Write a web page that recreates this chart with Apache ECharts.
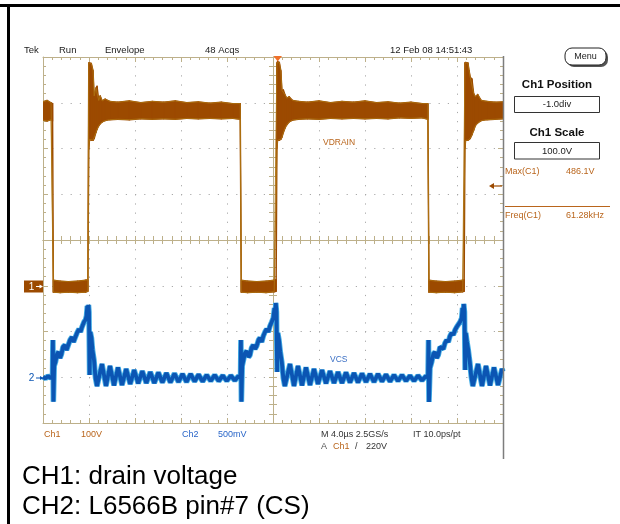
<!DOCTYPE html>
<html><head><meta charset="utf-8">
<script src="https://cdn.jsdelivr.net/npm/echarts@6/dist/echarts.min.js"></script>
<style>html,body{margin:0;padding:0;background:#fff}#c{width:620px;height:524px}</style>
</head><body><div id="c"></div><script>
// ---- Time axis (µs): 10 div x 4.0 µs ----
const timeMin = 0, timeMax = 40, timeDiv = 4;
// ---- CH1 drain voltage envelope (V): time, upper, lower ----
const drainT  = [0,0.35,0.7,0.83,0.9,1.5,2.2,3.0,3.7,3.9,3.98,4.05,4.2,4.35,4.45,4.6,4.7,4.85,4.97,5.15,5.4,5.8,6.5,7.5,8.5,9.5,10.5,11.5,12.5,13.5,14.5,15.5,16.5,17.15,17.24,17.8,18.6,19.4,20.1,20.27,20.34,20.4,20.55,20.68,20.78,20.9,21.05,21.2,21.4,21.7,22.2,23,24,25,26,27,28,29,30,31,32,33,33.47,33.56,34.2,35,35.8,36.5,36.62,36.69,36.75,36.95,37.05,37.15,37.3,37.45,37.6,37.8,38.1,38.6,39.3,40];
const drainHi = [402,405,400,398,12,10,9,10,12,13,487,487,486,470,415,432,436,405,415,404,408,403,401,404,400,403,401,404,400,402,399,401,398,398,12,10,9,10,12,13,487,490,488,470,427,428,417,410,413,405,403,401,404,400,403,401,404,400,402,399,401,398,398,12,10,9,10,12,13,487,488,487,470,456,452,420,413,418,405,403,401,402];
const drainLo = [362,360,363,360,-14,-15,-14,-15,-14,-12,300,320,318,318,322,335,342,350,354,358,361,363,364,363,365,364,365,364,366,365,366,365,366,364,-14,-15,-14,-15,-13,-12,300,318,318,320,325,335,345,352,358,362,364,365,364,366,365,366,365,366,365,367,366,367,364,-14,-15,-14,-15,-13,-12,300,318,318,320,322,330,340,350,356,361,363,364,365];
// ---- CH2 current sense voltage (V) ----
const vcsT = [0,0.217,0.435,0.652,0.826,0.861,0.904,0.974,1.087,1.217,1.348,1.478,1.609,1.739,1.913,2.043,2.174,2.348,2.522,2.652,2.783,2.957,3.13,3.261,3.391,3.565,3.696,3.783,3.852,3.896,3.957,4.0,4.052,4.113,4.217,4.304,4.435,4.565,4.696,4.826,5.13,5.478,5.826,6.174,6.522,6.87,7.235,7.583,7.93,8.278,8.635,8.983,9.33,9.678,10.035,10.383,10.73,11.078,11.435,11.783,12.13,12.478,12.835,13.183,13.53,13.878,14.235,14.583,14.93,15.278,15.635,15.983,16.33,16.678,17.0,17.174,17.209,17.252,17.322,17.435,17.565,17.713,17.87,18.0,18.13,18.287,18.435,18.583,18.739,18.87,19.017,19.157,19.304,19.452,19.591,19.739,19.887,20.026,20.13,20.191,20.243,20.304,20.357,20.417,20.522,20.635,20.765,20.896,21.026,21.157,21.478,21.826,22.174,22.522,22.87,23.217,23.565,23.913,24.261,24.609,24.957,25.304,25.652,26.0,26.348,26.696,27.043,27.391,27.739,28.087,28.435,28.783,29.13,29.478,29.826,30.174,30.522,30.87,31.217,31.565,31.913,32.261,32.609,32.957,33.304,33.478,33.522,33.565,33.652,33.8,33.94,34.087,34.235,34.374,34.522,34.67,34.809,34.957,35.104,35.243,35.391,35.539,35.678,35.826,35.974,36.113,36.261,36.409,36.478,36.539,36.591,36.652,36.704,36.765,36.87,36.983,37.113,37.243,37.374,37.504,37.826,38.174,38.522,38.87,39.217,39.565,39.913,40];
const vcsV = [0.003,-0.014,0.014,-0.008,0.003,0.407,-0.267,0.123,0.167,0.254,0.276,0.21,0.254,0.331,0.352,0.298,0.342,0.407,0.44,0.385,0.429,0.484,0.527,0.495,0.549,0.604,0.626,0.67,0.779,0.648,0.79,0.713,0.025,0.495,0.429,0.298,0.189,-0.008,-0.096,-0.112,0.145,-0.096,0.123,-0.09,0.107,-0.085,0.09,-0.074,0.079,-0.068,0.068,-0.063,0.057,-0.063,0.052,-0.057,0.046,-0.057,0.041,-0.052,0.036,-0.052,0.036,-0.046,0.03,-0.046,0.025,-0.041,0.025,-0.041,0.019,-0.041,0.019,-0.036,0.014,-0.008,0.407,-0.267,0.123,0.189,0.265,0.287,0.221,0.243,0.32,0.352,0.309,0.342,0.407,0.429,0.385,0.451,0.495,0.527,0.495,0.56,0.604,0.648,0.757,0.648,0.812,0.713,0.057,0.484,0.407,0.276,0.167,-0.008,-0.096,-0.112,0.145,-0.096,0.123,-0.09,0.107,-0.085,0.09,-0.074,0.079,-0.068,0.068,-0.063,0.057,-0.063,0.052,-0.057,0.046,-0.057,0.041,-0.052,0.036,-0.052,0.036,-0.046,0.03,-0.046,0.025,-0.041,0.025,-0.041,0.019,-0.041,0.019,-0.036,0.014,-0.008,0.407,-0.27,0.101,0.167,0.254,0.276,0.21,0.243,0.331,0.352,0.309,0.374,0.407,0.385,0.451,0.484,0.462,0.516,0.549,0.56,0.604,0.648,0.757,0.648,0.801,0.713,0.079,0.484,0.385,0.298,0.167,0.003,-0.096,-0.112,0.145,-0.096,0.123,-0.09,0.107,-0.085,0.09,0.063];
// ---- vertical scales: CH1 100 V/div (pos -1 div), CH2 500 mV/div (pos -3 div) ----
const ch1Min = -300, ch1Max = 500, ch1Div = 100;
const ch2Min = -0.5, ch2Max = 3.5, ch2Div = 0.5;
// ---- annotation texts ----
const topTexts = ['Tek', 'Run', 'Envelope', '48 Acqs', '12 Feb 08 14:51:43'];
const captions = ['CH1: drain voltage', 'CH2: L6566B pin#7 (CS)'];

const TAN = '#bdb08a', DOT = '#a9a9a9', BROWN = '#9c4a00', LBROWN = '#b9651c', BLUE = '#0b55b3', CYAN = '#45aee6';
const FONT = '"Liberation Sans", Arial, sans-serif';
const chart = echarts.init(document.getElementById('c'), null, {renderer: 'canvas'});

function frameX(extra) {
  return Object.assign({
    type: 'value', min: timeMin, max: timeMax, interval: timeDiv,
    axisLine: {show: true, onZero: false, lineStyle: {color: TAN, width: 1}},
    axisTick: {show: true, inside: true, length: 5, lineStyle: {color: TAN}},
    minorTick: {show: true, splitNumber: 5, length: 3, lineStyle: {color: TAN}},
    axisLabel: {show: false}, splitLine: {show: false}
  }, extra);
}
function frameY(min, max, interval, extra) {
  return Object.assign({
    type: 'value', min: min, max: max, interval: interval,
    axisLine: {show: true, onZero: false, lineStyle: {color: TAN, width: 1}},
    axisTick: {show: true, inside: true, length: 5, lineStyle: {color: TAN}},
    minorTick: {show: true, splitNumber: 5, length: 3, lineStyle: {color: TAN}},
    axisLabel: {show: false}, splitLine: {show: false}
  }, extra);
}
const zip = (a, b) => a.map((v, i) => [v, b[i]]);
const drainData = drainT.map((t, i) => [t, drainHi[i], drainLo[i]]);

function renderEnvelope(params, api) {
  const i = params.dataIndex;
  if (i >= drainT.length - 1) return null;
  const pts = [
    api.coord([api.value(0), api.value(1)]),
    api.coord([drainT[i + 1], drainHi[i + 1]]),
    api.coord([drainT[i + 1], drainLo[i + 1]]),
    api.coord([api.value(0), api.value(2)])
  ];
  return {type: 'polygon', shape: {points: pts}, style: {fill: BROWN, stroke: BROWN, lineWidth: 1.4, lineJoin: 'round'}};
}

function txt(text, x, y, o) {
  o = o || {};
  return {type: 'text', x: x, y: y, z: 100, silent: true,
    style: {text: text, fill: o.fill || '#222', font: (o.weight || 'normal') + ' ' + (o.size || 9.5) + 'px ' + FONT,
      align: o.align || 'left', verticalAlign: 'middle'}};
}

const graphic = [
  {type: 'rect', shape: {x: 0, y: 4, width: 620, height: 3}, style: {fill: '#000'}, silent: true},
  {type: 'rect', shape: {x: 7, y: 4, width: 3, height: 520}, style: {fill: '#000'}, silent: true},
  {type: 'line', shape: {x1: 503.5, y1: 56, x2: 503.5, y2: 459}, style: {stroke: '#7d7d7d', lineWidth: 1.5}, z: 50, silent: true},
  txt(topTexts[0], 24, 50), txt(topTexts[1], 59, 50), txt(topTexts[2], 105, 50), txt(topTexts[3], 205, 50), txt(topTexts[4], 390, 50),
  {type: 'polygon', shape: {points: [[273.5, 56], [282, 56], [277.7, 61.5]]}, style: {fill: '#f0702a'}, z: 60, silent: true},
  {type: 'rect', shape: {x: 567, y: 50, width: 41, height: 17, r: 7}, style: {fill: '#555'}, z: 40, silent: true},
  {type: 'rect', shape: {x: 565, y: 48, width: 41, height: 17, r: 7}, style: {fill: '#fff', stroke: '#222', lineWidth: 1}, z: 41, silent: true},
  txt('Menu', 585.5, 56.5, {align: 'center', size: 9}),
  txt('Ch1 Position', 557, 84.5, {align: 'center', weight: 'bold', size: 11.5, fill: '#111'}),
  {type: 'rect', shape: {x: 514.5, y: 96.5, width: 85, height: 16}, style: {fill: '#fff', stroke: '#333', lineWidth: 1}, z: 40, silent: true},
  txt('-1.0div', 557, 104.5, {align: 'center', size: 9.5}),
  txt('Ch1 Scale', 557, 132.5, {align: 'center', weight: 'bold', size: 11.5, fill: '#111'}),
  {type: 'rect', shape: {x: 514.5, y: 142.5, width: 85, height: 16.5}, style: {fill: '#fff', stroke: '#333', lineWidth: 1}, z: 40, silent: true},
  txt('100.0V', 557, 151, {align: 'center', size: 9.5}),
  txt('Max(C1)', 505, 172, {fill: LBROWN, size: 9}),
  txt('486.1V', 566, 172, {fill: LBROWN, size: 9}),
  {type: 'line', shape: {x1: 491, y1: 186, x2: 502, y2: 186}, style: {stroke: BROWN, lineWidth: 1.2}, z: 60, silent: true},
  {type: 'polygon', shape: {points: [[489, 186], [494, 183], [494, 189]]}, style: {fill: BROWN}, z: 60, silent: true},
  {type: 'line', shape: {x1: 505, y1: 206.5, x2: 610, y2: 206.5}, style: {stroke: LBROWN, lineWidth: 1}, z: 60, silent: true},
  txt('Freq(C1)', 505, 216, {fill: LBROWN, size: 9}),
  txt('61.28kHz', 566, 216, {fill: LBROWN, size: 9}),
  {type: 'rect', shape: {x: 24, y: 280.5, width: 19, height: 12}, style: {fill: BROWN}, z: 60, silent: true},
  txt('1', 31.5, 286.8, {fill: '#fff', size: 10, align: 'center'}),
  {type: 'line', shape: {x1: 36, y1: 286.5, x2: 41, y2: 286.5}, style: {stroke: '#fff', lineWidth: 1}, z: 61, silent: true},
  {type: 'polygon', shape: {points: [[43, 286.5], [39.5, 284.5], [39.5, 288.5]]}, style: {fill: '#fff'}, z: 61, silent: true},
  txt('2', 31.5, 378.5, {fill: BLUE, size: 10, align: 'center'}),
  {type: 'line', shape: {x1: 36, y1: 378, x2: 41, y2: 378}, style: {stroke: BLUE, lineWidth: 1}, z: 61, silent: true},
  {type: 'polygon', shape: {points: [[43.5, 378], [40, 376], [40, 380]]}, style: {fill: BLUE}, z: 61, silent: true},
  txt('VDRAIN', 323, 143, {fill: LBROWN, size: 8.5}),
  txt('VCS', 330, 360, {fill: '#3a6fc4', size: 8.5}),
  txt('Ch1', 44, 435, {fill: LBROWN, size: 9}), txt('100V', 81, 435, {fill: LBROWN, size: 9}),
  txt('Ch2', 182, 435, {fill: '#2a66c8', size: 9}), txt('500mV', 218, 435, {fill: '#2a66c8', size: 9}),
  txt('M 4.0\u00b5s 2.5GS/s', 321, 435, {size: 9, fill: '#333'}), txt('IT 10.0ps/pt', 413, 435, {size: 9, fill: '#333'}),
  txt('A', 321, 447, {size: 9, fill: '#555'}), txt('Ch1', 333, 447, {size: 9, fill: LBROWN}),
  txt('/', 355, 447, {size: 9, fill: '#333'}), txt('220V', 366, 447, {size: 9, fill: '#333'}),
  txt(captions[0], 22, 477, {size: 26, fill: '#000'}),
  txt(captions[1], 22, 507, {size: 26, fill: '#000'})
];

chart.setOption({
  animation: false,
  backgroundColor: '#fff',
  grid: {left: 43, top: 57, width: 460, height: 366, containLabel: false, outerBoundsMode: 'none', show: false},
  xAxis: [
    frameX({position: 'bottom', splitLine: {show: true, lineStyle: {color: DOT, width: 1, type: [1.2, 7.95]}}}),
    frameX({position: 'top'}),
    frameX({position: 'bottom', offset: -183, axisTick: {show: true, inside: true, length: 4, lineStyle: {color: TAN}}, minorTick: {show: true, splitNumber: 5, length: 4, lineStyle: {color: TAN}}}),
    frameX({position: 'bottom', offset: -183, axisTick: {show: true, inside: false, length: 4, lineStyle: {color: TAN}}, minorTick: {show: true, splitNumber: 5, length: 4, lineStyle: {color: TAN}}})
  ],
  yAxis: [
    frameY(ch1Min, ch1Max, ch1Div, {position: 'left', splitLine: {show: true, lineStyle: {color: DOT, width: 1, type: [1.2, 8]}}}),
    frameY(ch2Min, ch2Max, ch2Div, {position: 'right'}),
    frameY(-4, 4, 1, {position: 'left', offset: -230, axisTick: {show: true, inside: true, length: 4, lineStyle: {color: TAN}}, minorTick: {show: true, splitNumber: 5, length: 4, lineStyle: {color: TAN}}}),
    frameY(-4, 4, 1, {position: 'left', offset: -230, axisTick: {show: true, inside: false, length: 4, lineStyle: {color: TAN}}, minorTick: {show: true, splitNumber: 5, length: 4, lineStyle: {color: TAN}}})
  ],
  series: [
    {type: 'custom', name: 'drain', xAxisIndex: 0, yAxisIndex: 0, data: drainData, encode: {x: 0, y: [1, 2]},
      renderItem: renderEnvelope, z: 5, silent: true, clip: true},
    {type: 'line', name: 'drainHiEdge', xAxisIndex: 0, yAxisIndex: 0, data: zip(drainT, drainHi), symbol: 'none',
      lineStyle: {color: '#ad7010', width: 0.9}, z: 6, silent: true},
    {type: 'line', name: 'drainLoEdge', xAxisIndex: 0, yAxisIndex: 0, data: zip(drainT, drainLo), symbol: 'none',
      lineStyle: {color: '#ad7010', width: 0.9}, z: 6, silent: true},
    {type: 'line', name: 'vcsGlow', xAxisIndex: 0, yAxisIndex: 1, data: zip(vcsT, vcsV), symbol: 'none',
      lineStyle: {color: CYAN, width: 5.5}, z: 7, silent: true},
    {type: 'line', name: 'vcs', xAxisIndex: 0, yAxisIndex: 1, data: zip(vcsT, vcsV), symbol: 'none',
      lineStyle: {color: BLUE, width: 3.8}, z: 8, silent: true}
  ],
  graphic: graphic
});
</script></body></html>
